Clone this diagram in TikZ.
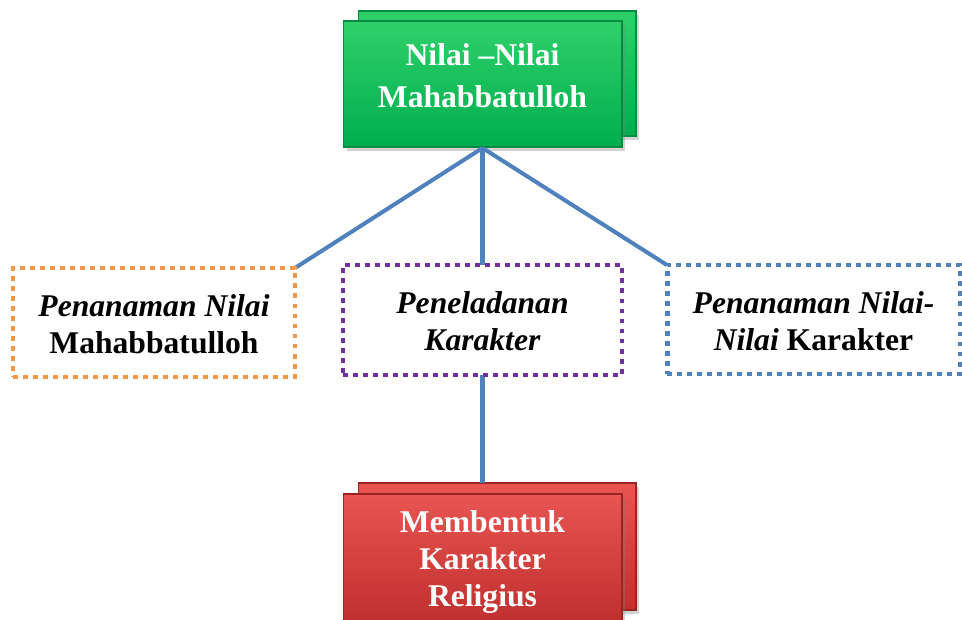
\documentclass[tikz,border=0pt]{standalone}
\usepackage{fontspec}
\setmainfont{Liberation Serif}
\usetikzlibrary{shadows}
\definecolor{conn}{HTML}{4F81BD}
\definecolor{dorange}{HTML}{F79646}
\definecolor{dpurple}{HTML}{7030A0}
\definecolor{dblue}{HTML}{4F81BD}
\definecolor{gtop}{HTML}{2FD06A}
\definecolor{gbot}{HTML}{00AE4E}
\definecolor{gedge}{HTML}{008C3E}
\definecolor{rtop}{HTML}{E85552}
\definecolor{rbot}{HTML}{C0302E}
\definecolor{redge}{HTML}{9A2420}
\tikzset{
  greenbox/.style={rectangle, inner sep=0pt, outer sep=0pt, draw=gedge, line width=0.6pt,
    top color=gtop, bottom color=gbot,
    drop shadow={opacity=0.35, shadow xshift=2pt, shadow yshift=-2pt}},
  redbox/.style={rectangle, inner sep=0pt, outer sep=0pt, draw=redge, line width=0.6pt,
    top color=rtop, bottom color=rbot,
    drop shadow={opacity=0.35, shadow xshift=2pt, shadow yshift=-2pt}},
  dotbox/.style={rectangle, inner sep=0pt, outer sep=0pt, fill=white, line width=2.8pt,
    dash pattern=on 2.8pt off 2.9pt},
  conline/.style={draw=conn, line width=2.3pt},
  whitetxt/.style={text=white, align=center, font=\fontsize{18}{24}\selectfont\bfseries},
  whitetxtr/.style={text=white, align=center, font=\fontsize{18}{21}\selectfont\bfseries},
  blacktxt/.style={text=black, align=center, font=\fontsize{18}{21}\selectfont\bfseries}
}
\begin{document}
\begin{tikzpicture}[x=0.02cm, y=-0.02cm]
\useasboundingbox (0,0) rectangle (962,619);
% green boxes
\node[greenbox, minimum width=5.56cm, minimum height=2.5cm] (gback) at (497,73.5) {};
\node[greenbox, minimum width=5.58cm, minimum height=2.52cm] (gfront) at (482.5,84) {};
\node[whitetxt] (gtext) at (482.5,76) {Nilai –Nilai\\Mahabbatulloh};
% red boxes
\node[redbox, minimum width=5.56cm, minimum height=2.54cm] (rback) at (497,546.5) {};
\node[redbox, minimum width=5.58cm, minimum height=2.54cm] (rfront) at (482.5,557.5) {};
\node[whitetxtr] (rtext) at (482.5,562) {Membentuk\\Karakter\\Religius};
% connectors
\coordinate (gb) at (482.5,148);
\draw[conline] (gb) -- (295,268) coordinate (oc);
\draw[conline] (gb) -- (482.5,265) coordinate (pc);
\draw[conline] (gb) -- (667,265) coordinate (bc);
\draw[conline] (482.5,375) coordinate (pb) -- (482.5,483) coordinate (rt);
% dotted boxes
\node[dotbox, draw=dorange, minimum width=5.64cm, minimum height=2.18cm] (obox) at (154,322.5) {};
\node[dotbox, draw=dpurple, minimum width=5.58cm, minimum height=2.2cm] (pbox) at (482.5,320) {};
\node[dotbox, draw=dblue, minimum width=5.86cm, minimum height=2.18cm] (bbox) at (813.5,319.5) {};
\node[blacktxt] (otext) at (154,324) {\textit{Penanaman Nilai}\\Mahabbatulloh};
\node[blacktxt] (ptext) at (482.5,321) {\textit{Peneladanan}\\\textit{Karakter}};
\node[blacktxt] (btext) at (813.5,321) {\textit{Penanaman Nilai-}\\\textit{Nilai} Karakter};
\end{tikzpicture}
\end{document}
